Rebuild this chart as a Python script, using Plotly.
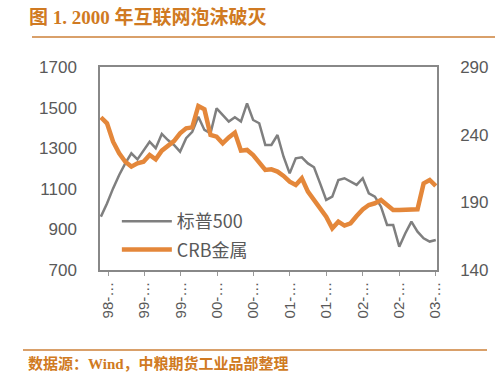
import plotly.graph_objects as go

# monthly observations, Aug 1998 .. Mar 2003
months = list(range(56))
sp500 = [963, 1028, 1102, 1168, 1225, 1275, 1245, 1291, 1332, 1300,
         1370, 1340, 1316, 1283, 1349, 1381, 1455, 1390, 1373, 1496,
         1464, 1431, 1452, 1431, 1521, 1439, 1423, 1316, 1316, 1365,
         1258, 1176, 1250, 1255, 1225, 1206, 1127, 1045, 1061, 1143,
         1152, 1135, 1119, 1152, 1078, 1061, 1012, 922, 922, 815,
         881, 938, 889, 856, 840, 848]
crb_metal = [252.8, 248.4, 234.8, 226.2, 220.0, 216.4, 218.8, 220.0, 225.0, 221.8,
             228.2, 231.6, 235.3, 241.0, 244.7, 245.4, 261.2, 258.7, 239.8, 238.5,
             233.6, 238.0, 241.5, 228.2, 228.7, 225.0, 220.0, 213.9, 214.4, 212.7,
             209.5, 205.3, 202.8, 207.7, 197.9, 191.7, 185.6, 179.4, 170.8, 175.7,
             172.8, 174.5, 179.9, 184.8, 188.0, 189.3, 191.7, 188.0, 184.3, 184.3,
             184.3, 184.3, 184.8, 204.0, 206.5, 202.1]
tick_labels = ["98-…", "99-…", "99-…", "00-…", "00-…", "01-…", "01-…", "02-…", "02-…", "03-…"]
tick_pos = [1.2 + 5.97 * k for k in range(len(tick_labels))]
left_ticks = [700, 900, 1100, 1300, 1500, 1700]
right_ticks = [140, 190, 240, 290]

ORANGE = "#E4873A"
GRAY = "#7F7F7F"
TXT = "#595959"
TITLE_C = "#D07A22"
FONT = "Liberation Sans, Noto Sans CJK SC, sans-serif"
SERIF = "Liberation Serif, Noto Sans CJK SC, serif"

fig = go.Figure()
fig.add_trace(go.Scatter(x=months, y=sp500, name="标普500", mode="lines",
                         line=dict(color=GRAY, width=2.5), legendgroup="a"))
fig.add_trace(go.Scatter(x=months, y=crb_metal, name="CRB金属", mode="lines",
                         line=dict(color=ORANGE, width=4.5), yaxis="y2", legendgroup="b"))


def px_x(px):
    return (px - 100) / 337.0


def px_y(py):
    return (270 - py) / 203.0


fig.update_layout(
    width=495, height=380,
    margin=dict(l=100, r=58, t=67, b=110, autoexpand=False),
    paper_bgcolor="white", plot_bgcolor="white",
    font=dict(family=FONT, color=TXT, size=16),
    showlegend=True,
    legend=dict(x=0.05, y=0.33, xanchor="left", yanchor="top",
                bgcolor="rgba(0,0,0,0)", font=dict(size=18, color=TXT, family="Noto Sans CJK SC"),
                tracegroupgap=2, itemwidth=50),
    xaxis=dict(range=[-0.15, 55.2], tickvals=tick_pos, ticktext=tick_labels,
               tickangle=-90, showgrid=False, zeroline=False, automargin=False,
               showline=True, linecolor="#888888", linewidth=1.5, mirror=True,
               ticks="outside", ticklen=4, tickcolor="#999999",
               tickfont=dict(size=15, color=TXT)),
    yaxis=dict(range=[700, 1700], tickvals=left_ticks, showgrid=False, zeroline=False,
               showline=True, linecolor="#888888", linewidth=1.5, automargin=False,
               ticks="", ticklabelstandoff=18, tickfont=dict(size=17, color=TXT)),
    yaxis2=dict(range=[140, 290], tickvals=right_ticks, overlaying="y", side="right",
                showgrid=False, zeroline=False, showline=True, linecolor="#888888",
                linewidth=1.5, ticks="", ticklabelstandoff=18, automargin=False,
                tickfont=dict(size=17, color=TXT)),
    shapes=[
        dict(type="line", xref="paper", yref="paper", x0=px_x(32), x1=px_x(495),
             y0=px_y(37), y1=px_y(37), line=dict(color="#D9A06A", width=2)),
        dict(type="line", xref="paper", yref="paper", x0=px_x(23), x1=px_x(487),
             y0=px_y(350), y1=px_y(350), line=dict(color="#D9A06A", width=2)),
    ],
)

fig.add_annotation(text="<b>图 1. 2000 年互联网泡沫破灭</b>", xref="paper", yref="paper",
                   x=px_x(27), y=px_y(17), xanchor="left", yanchor="middle",
                   showarrow=False, font=dict(size=19, color=TITLE_C, family=SERIF))
fig.add_annotation(text="<b>数据源：Wind，中粮期货工业品部整理</b>", xref="paper", yref="paper",
                   x=px_x(26), y=px_y(363), xanchor="left", yanchor="middle",
                   showarrow=False, font=dict(size=15, color=TITLE_C, family=SERIF))

fig.write_html("out.html", config={"displayModeBar": False},
               post_script="document.body.style.margin='0';")
